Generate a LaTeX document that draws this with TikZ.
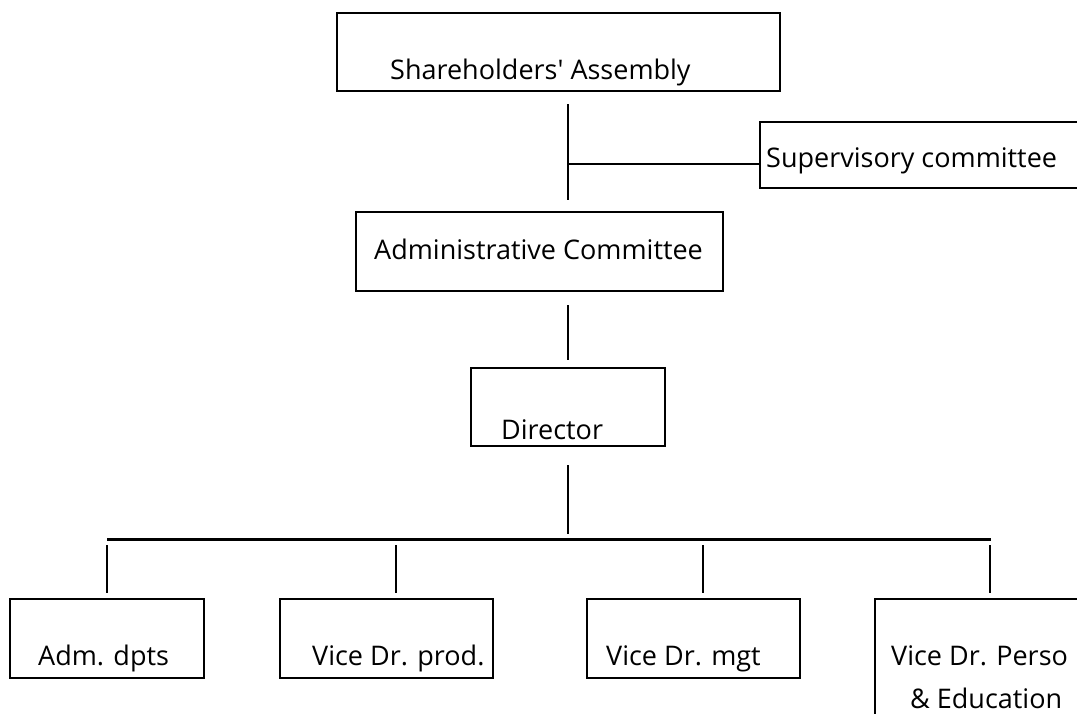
\documentclass[tikz,border=0pt]{standalone}
\usepackage{fontspec}
\setmainfont{Open Sans}
\begin{document}
\begin{tikzpicture}[x=1pt,y=-1pt,
  box/.style={draw, line width=2pt, inner sep=0pt},
  lbl/.style={anchor=base west, inner sep=0pt, font=\fontsize{27}{32}\selectfont},
  conn/.style={line width=2pt},
  bus/.style={line width=3pt}]
\useasboundingbox (0,0) rectangle (1077,713);
\clip (0,0) rectangle (1077,713);
% boxes
\node[box, minimum width=443pt, minimum height=78pt] (sa) at (558.5,52) {};
\node[box, minimum width=340pt, minimum height=66pt] (sv) at (930,155) {};
\node[box, minimum width=367pt, minimum height=79pt] (ac) at (539.5,251.5) {};
\node[box, minimum width=194pt, minimum height=78pt] (dr) at (568,407) {};
\node[box, minimum width=194pt, minimum height=79pt] (adm) at (107,638.5) {};
\node[box, minimum width=213pt, minimum height=79pt] (prod) at (386.5,638.5) {};
\node[box, minimum width=213pt, minimum height=79pt] (mgt) at (693.5,638.5) {};
\node[box, minimum width=225pt, minimum height=141pt] (perso) at (987.5,669.5) {};
% labels
\node[lbl] (tsa) at (390,79) {Shareholders\textquotesingle{} Assembly};
\node[lbl] (tsv) at (766,167) {Supervisory committee};
\node[lbl] (tac) at (374,259) {Administrative Committee};
\node[lbl] (tdr) at (501,439) {Director};
\node[lbl] (tadm) at (38,665) {Adm. dpts};
\node[lbl] (tprod) at (312,665) {Vice Dr. prod.};
\node[lbl] (tmgt) at (606,665) {Vice Dr. mgt};
\node[lbl] (tperso) at (891,665) {Vice Dr. Perso};
\node[lbl] (tedu) at (910,708) {\& Education};
% connector ends
\coordinate (a1) at (568,104);
\coordinate (a2) at (568,200);
\coordinate (j1) at (568,164);
\coordinate (s1) at (760,164);
\coordinate (b1) at (568,305);
\coordinate (b2) at (568,360);
\coordinate (d1) at (568,465);
\coordinate (d2) at (568,534);
\coordinate (busl) at (107,539);
\coordinate (busr) at (991,539);
\coordinate (p1t) at (107,545); \coordinate (p1b) at (107,593);
\coordinate (p2t) at (396,545); \coordinate (p2b) at (396,593);
\coordinate (p3t) at (703,545); \coordinate (p3b) at (703,593);
\coordinate (p4t) at (990,545); \coordinate (p4b) at (990,593);
% connectors
\draw[conn] (a1) -- (a2);
\draw[conn] (j1) -- (s1);
\draw[conn] (b1) -- (b2);
\draw[conn] (d1) -- (d2);
\draw[bus] (busl) -- (busr);
\draw[conn] (p1t) -- (p1b);
\draw[conn] (p2t) -- (p2b);
\draw[conn] (p3t) -- (p3b);
\draw[conn] (p4t) -- (p4b);
\end{tikzpicture}
\end{document}
